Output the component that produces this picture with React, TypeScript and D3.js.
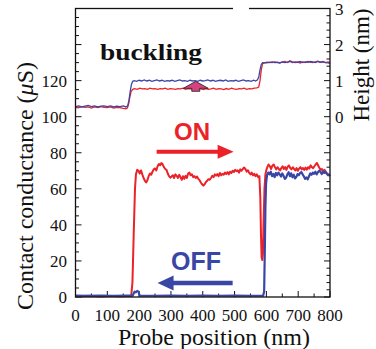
import React from "react";
import * as d3 from "d3";

const W = 376,
  H = 349;
const frame = { left: 75.5, right: 330, top: 8.5, bottom: 297 };

// conductance (uS) vs probe position (nm), tip moving right (ON) and back left (OFF)
const onCurve: [number, number][] = [
  [0, 0.6], [20, 0.4], [40, 0.7], [60, 0.5], [80, 0.3], [100, 0.6], [120, 0.5], [140, 0.4], [160, 0.6], [175, 0.5],
  [179, 8], [183, 35], [187, 60], [190, 68], [194, 70.5], [198, 70], [202, 68.5], [206, 70.2], [210, 68], [214, 66],
  [218, 64.5], [222, 63.5], [226, 64.8], [230, 67], [234, 68.5], [238, 67.8], [242, 69.5], [246, 70.8], [250, 71.3],
  [254, 70.2], [258, 72.5], [262, 73.8], [266, 73], [270, 74.3], [274, 73.5], [278, 72], [282, 71], [286, 70.5],
  [290, 68.5], [294, 67], [298, 66.2], [302, 66.8], [306, 67.5], [310, 66], [314, 68], [318, 67.2], [322, 66],
  [326, 67.8], [330, 66.5], [334, 65], [338, 67], [342, 65.5], [346, 67.2], [350, 66], [354, 68.5], [358, 69],
  [362, 67.5], [366, 68], [370, 66.5], [374, 67], [378, 66], [382, 66.8], [386, 65.5], [390, 64.8], [394, 63.5],
  [398, 62.5], [402, 61.8], [406, 62.5], [410, 63.8], [414, 64.5], [418, 65.3], [422, 65], [426, 66], [430, 67.2],
  [434, 66.5], [438, 68], [442, 67.3], [446, 68.2], [450, 67], [454, 68.8], [458, 67.5], [462, 68.3], [466, 67.8],
  [470, 69], [474, 68.2], [478, 69.3], [482, 68], [486, 69.5], [490, 68.8], [494, 70], [498, 69.3], [502, 70.5],
  [506, 69.8], [510, 70.2], [514, 69], [518, 70.8], [522, 70], [526, 71], [530, 71.8], [534, 71], [538, 69.5],
  [542, 70.3], [546, 68.8], [550, 68], [554, 69], [558, 67.5], [562, 68.3], [566, 67], [570, 68], [574, 66.5],
  [578, 67], [581, 55], [583, 35], [585, 22], [587, 20.5], [589, 24], [591, 40], [594, 60], [597, 68], [600, 70.5],
  [603, 72], [607, 73.5], [611, 72.5], [615, 71], [619, 72.8], [623, 73.5], [627, 72], [631, 70.8], [635, 72],
  [639, 71], [643, 70.2], [647, 71.5], [651, 72.5], [655, 71], [659, 72], [663, 70.5], [667, 72.3], [671, 73],
  [675, 71.5], [679, 70.8], [683, 72], [687, 71], [691, 70.2], [695, 71.5], [699, 70], [703, 71.2], [707, 72],
  [711, 70.8], [715, 71.5], [719, 70.5], [723, 71.8], [727, 70.6], [731, 72], [735, 71.2], [739, 73], [743, 72],
  [747, 71.5], [751, 72.5], [755, 73.5], [759, 74.3], [763, 72.8], [767, 71.5], [771, 70.5], [775, 71], [779, 69.8],
  [783, 70.5], [787, 69], [791, 68.5], [795, 68], [800, 67],
];

const offCurve: [number, number][] = [
  [0, 0.8], [40, 0.7], [80, 0.8], [120, 0.7], [160, 0.8], [180, 0.8], [183, 2], [186, 3], [190, 2.6], [194, 3.4],
  [198, 3], [201, 1], [204, 0.8], [250, 0.7], [300, 0.8], [350, 0.7], [400, 0.8], [450, 0.7], [500, 0.8], [550, 0.7],
  [590, 0.8], [593, 3], [595, 25], [597, 50], [599, 63], [602, 67.5], [606, 69], [610, 68], [614, 69.5], [618, 67],
  [622, 68.2], [626, 66.5], [630, 68.8], [634, 67.5], [638, 69], [642, 68], [646, 66.8], [650, 68.5], [654, 67.2],
  [658, 65.5], [662, 66.2], [666, 68], [670, 69.2], [674, 67], [678, 68.6], [682, 66.4], [686, 67.8], [690, 65.8],
  [694, 66.5], [698, 68.2], [702, 67.5], [706, 68.8], [710, 69.3], [714, 68], [718, 66.8], [722, 65.5], [726, 66.3],
  [730, 65.2], [734, 67], [738, 68.5], [742, 67.8], [746, 69], [750, 68.3], [754, 69.5], [758, 68], [762, 69.2],
  [766, 70], [770, 69.4], [774, 68.2], [778, 69.5], [782, 68.8], [786, 69.6], [790, 68.3], [794, 67.5], [800, 67.8],
];

// height (nm) profiles
const heightBlue: [number, number][] = [
  [0, 0.28], [10, 0.3], [20, 0.27], [30, 0.29], [40, 0.31], [50, 0.28], [60, 0.3], [70, 0.27], [80, 0.29], [90, 0.3],
  [100, 0.28], [110, 0.3], [120, 0.27], [130, 0.29], [140, 0.28], [150, 0.3], [158, 0.27], [164, 0.3], [168, 0.45],
  [172, 0.7], [176, 0.9], [180, 0.98], [185, 1.0], [192, 0.98], [200, 1.01], [208, 0.99], [216, 1.02], [224, 0.99],
  [232, 1.01], [240, 0.98], [248, 1.0], [256, 1.02], [264, 0.99], [272, 1.01], [280, 0.98], [288, 1.0], [296, 0.99],
  [304, 1.01], [312, 0.98], [320, 1.0], [328, 1.02], [336, 0.99], [344, 1.0], [352, 0.98], [360, 1.01], [368, 0.99],
  [376, 1.0], [384, 0.98], [392, 1.01], [400, 0.99], [408, 1.0], [416, 1.02], [424, 0.99], [432, 1.01], [440, 0.98],
  [448, 1.0], [456, 1.01], [464, 0.99], [472, 1.02], [480, 0.98], [488, 1.0], [496, 0.99], [504, 1.01], [512, 0.98],
  [520, 1.0], [528, 1.02], [536, 0.99], [544, 1.0], [552, 0.98], [560, 1.01], [566, 0.99], [572, 1.02], [576, 1.1],
  [580, 1.3], [584, 1.45], [588, 1.5], [594, 1.49], [602, 1.51], [610, 1.5], [618, 1.52], [626, 1.5], [634, 1.51],
  [642, 1.49], [650, 1.52], [658, 1.5], [666, 1.51], [674, 1.53], [682, 1.5], [690, 1.52], [698, 1.51], [706, 1.53],
  [714, 1.5], [722, 1.52], [730, 1.51], [738, 1.53], [746, 1.52], [754, 1.5], [762, 1.53], [770, 1.51], [778, 1.52],
  [786, 1.5], [794, 1.49], [800, 1.48],
];

const heightRed: [number, number][] = [
  [0, 0.27], [10, 0.25], [20, 0.28], [30, 0.26], [40, 0.27], [50, 0.24], [60, 0.27], [70, 0.25], [80, 0.28], [90, 0.26],
  [100, 0.25], [110, 0.27], [120, 0.24], [130, 0.26], [140, 0.25], [150, 0.23], [158, 0.22], [163, 0.24], [167, 0.35],
  [171, 0.55], [175, 0.7], [180, 0.76], [186, 0.78], [194, 0.76], [202, 0.79], [210, 0.77], [218, 0.78], [226, 0.76],
  [234, 0.79], [242, 0.77], [250, 0.78], [258, 0.76], [266, 0.78], [274, 0.77], [282, 0.79], [290, 0.76], [298, 0.78],
  [306, 0.77], [314, 0.76], [322, 0.78], [330, 0.77], [338, 0.79], [346, 0.76], [354, 0.78], [362, 0.77], [370, 0.78],
  [378, 0.76], [386, 0.78], [394, 0.77], [402, 0.75], [410, 0.78], [418, 0.76], [426, 0.77], [434, 0.79], [442, 0.76],
  [450, 0.78], [458, 0.77], [466, 0.75], [474, 0.78], [482, 0.76], [490, 0.79], [498, 0.77], [506, 0.76], [514, 0.78],
  [522, 0.77], [530, 0.79], [538, 0.76], [546, 0.78], [554, 0.77], [562, 0.79], [570, 0.8], [576, 0.82], [580, 1.0],
  [584, 1.3], [588, 1.47], [594, 1.5], [602, 1.49], [610, 1.51], [618, 1.5], [626, 1.52], [634, 1.5], [642, 1.49],
  [650, 1.51], [658, 1.53], [666, 1.5], [674, 1.55], [682, 1.52], [690, 1.5], [698, 1.51], [706, 1.49], [714, 1.52],
  [722, 1.5], [730, 1.53], [738, 1.51], [746, 1.5], [754, 1.52], [762, 1.54], [770, 1.51], [778, 1.53], [786, 1.5],
  [794, 1.52], [800, 1.5],
];

const xTickLabels = [0, 100, 200, 300, 400, 500, 600, 700, 800];
const yTickLabels = [0, 20, 40, 60, 80, 100, 120];
const hTickLabels = [0, 1, 2, 3];

// annotation anchors, data units
const onArrow = { from: 255, to: 497, level: 80.5 };
const offArrow = { from: 494, to: 258, level: 7.8 };
const bucklePoint = { pos: 378, height: 0.8 };

const RED = "#ec2229";
const BLUE = "#3a46a6";
const serif = "'Liberation Serif', 'Times New Roman', serif";
const sans = "'Liberation Sans', Arial, sans-serif";

export default function App() {
  const x = d3.scaleLinear().domain([0, 800]).range([frame.left, frame.right]);
  const y = d3.scaleLinear().domain([0, 160]).range([frame.bottom, frame.top]);
  const yH = d3.scaleLinear().domain([-5, 3]).range([frame.bottom, frame.top]);

  const lineC = d3
    .line<[number, number]>()
    .x(d => x(d[0]))
    .y(d => y(d[1]));
  const lineH = d3
    .line<[number, number]>()
    .x(d => x(d[0]))
    .y(d => yH(d[1]));

  const xMinor = d3.range(0, 801, 50);
  const yMinor = d3.range(0, 161, 5);
  const hMinor = d3.range(-25, 16).map(v => v / 5);

  const onY = y(onArrow.level);
  const onTip = x(onArrow.to);
  const offY = y(offArrow.level);
  const offTip = x(offArrow.to);
  const bx = x(bucklePoint.pos);
  const by = yH(bucklePoint.height);
  const buckleShape = [[0, -6.5], [12.5, 0.5], [4, 0.5], [4, 3.5], [-4, 3.5], [-4, 0.5], [-12.5, 0.5]]
    .map(p => `${bx + p[0]},${by + p[1]}`)
    .join(" ");

  return (
    <svg width={W} height={H} style={{ position: "absolute", left: 0, top: 0 }}>
      <rect width={W} height={H} fill="white" />

      {/* ticks */}
      <g stroke="#111" strokeWidth={1}>
        {xMinor.map(v => (
          <line key={"x" + v} x1={x(v)} x2={x(v)} y1={frame.bottom} y2={frame.bottom - (v % 100 === 0 ? 6 : 3.5)} />
        ))}
        {yMinor.map(v => (
          <line key={"y" + v} x1={frame.left} x2={frame.left + (v % 20 === 0 ? 6 : 3.5)} y1={y(v)} y2={y(v)} />
        ))}
        {hMinor.map((v, i) => (
          <line key={"h" + i} x1={frame.right} x2={frame.right - ((i % 5) === 0 ? 6 : 3.5)} y1={yH(v)} y2={yH(v)} />
        ))}
      </g>

      {/* height traces */}
      <path d={lineH(heightRed) || ""} fill="none" stroke={RED} strokeWidth={1.3} />
      <path d={lineH(heightBlue) || ""} fill="none" stroke={BLUE} strokeWidth={1.3} />
      <polygon points={buckleShape} fill="#d2437f" stroke="#222" strokeWidth={0.8} />

      {/* conductance traces */}
      <path d={lineC(onCurve) || ""} fill="none" stroke={RED} strokeWidth={2} strokeLinejoin="round" />
      <path d={lineC(offCurve) || ""} fill="none" stroke={BLUE} strokeWidth={2.2} strokeLinejoin="round" />

      <rect
        x={frame.left}
        y={frame.top}
        width={frame.right - frame.left}
        height={frame.bottom - frame.top}
        fill="none"
        stroke="#111"
        strokeWidth={1.3}
      />
      <rect x={233} y={0} width={16} height={11} fill="white" />

      {/* ON / OFF arrows */}
      <line x1={x(onArrow.from)} x2={onTip - 12} y1={onY} y2={onY} stroke={RED} strokeWidth={4} />
      <polygon points={`${onTip},${onY} ${onTip - 16},${onY - 7} ${onTip - 16},${onY + 7}`} fill={RED} />
      <text x={192} y={140} textAnchor="middle" fontFamily={sans} fontWeight="bold" fontSize={24} fill={RED}>
        ON
      </text>
      <line x1={x(offArrow.from)} x2={offTip + 12} y1={offY} y2={offY} stroke={BLUE} strokeWidth={4.5} />
      <polygon points={`${offTip},${offY} ${offTip + 16},${offY - 7.5} ${offTip + 16},${offY + 7.5}`} fill={BLUE} />
      <text x={196} y={270} textAnchor="middle" fontFamily={sans} fontWeight="bold" fontSize={25} fill={BLUE}>
        OFF
      </text>

      <text
        x={100}
        y={60}
        fontFamily={serif}
        fontWeight="bold"
        fontSize={24}
        textLength={102}
        lengthAdjust="spacingAndGlyphs"
        fill="#111"
      >
        buckling
      </text>

      {/* tick labels */}
      <g fontFamily={serif} fontSize={17} fill="#111">
        {xTickLabels.map(v => (
          <text key={v} x={x(v)} y={321} textAnchor="middle">
            {v}
          </text>
        ))}
        {yTickLabels.map(v => (
          <text key={v} x={67} y={y(v) + 6} textAnchor="end">
            {v}
          </text>
        ))}
        {hTickLabels.map(v => (
          <text key={v} x={335} y={yH(v) + 6} textAnchor="start">
            {v}
          </text>
        ))}
      </g>

      {/* axis titles */}
      <g fontFamily={serif} fontSize={24} fill="#111">
        <text x={214} y={345} textAnchor="middle">
          Probe position (nm)
        </text>
        <text transform="translate(33,186) rotate(-90)" textAnchor="middle">
          Contact conductance (<tspan fontStyle="italic">μ</tspan>S)
        </text>
        <text transform="translate(369,65) rotate(-90)" textAnchor="middle" fontSize={23}>
          Height (nm)
        </text>
      </g>
    </svg>
  );
}
